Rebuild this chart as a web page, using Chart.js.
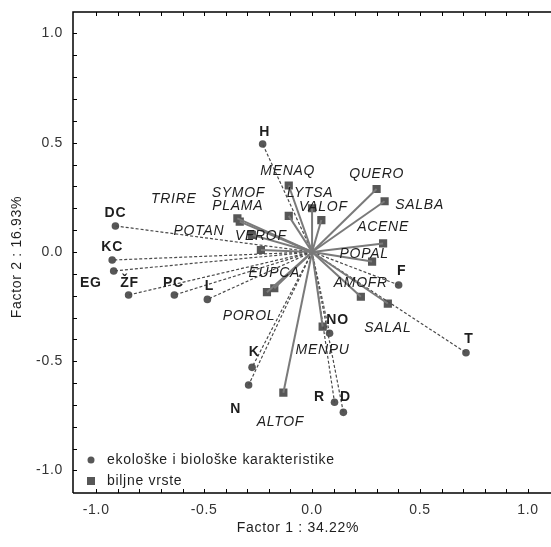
<!DOCTYPE html>
<html>
<head>
<meta charset="utf-8">
<script src="https://cdn.jsdelivr.net/npm/chart.js@4.4.1/dist/chart.umd.min.js"></script>
<style>
  body { margin: 0; background: #fff; }
  #wrap { width: 551px; height: 547px; }
</style>
</head>
<body>
<div id="wrap"><canvas id="biplot"></canvas></div>
<script>
// ekološke i biološke karakteristike (kružići, isprekidane linije)
var karLabels = ["H", "DC", "KC", "EG", "ŽF", "PC", "L", "F", "T", "NO", "K", "N", "R", "D"];
var karX = [-0.229, -0.911, -0.926, -0.919, -0.850, -0.638, -0.485, 0.401, 0.713, 0.081, -0.278, -0.294, 0.104, 0.145];
var karY = [0.494, 0.119, -0.037, -0.087, -0.197, -0.197, -0.217, -0.151, -0.461, -0.372, -0.528, -0.609, -0.688, -0.734];

// biljne vrste (kvadratići, pune linije)
var vrsteLabels = ["MENAQ", "TRIRE", "LYTSA", "VALOF", "QUERO", "SALBA", "ACENE", "POPAL", "AMOFR",
  "SALAL", "SYMOF", "PLAMA", "VEROF", "POTAN", "EUPCA", "POROL", "MENPU", "ALTOF"];
var vrsteX = [-0.108, -0.108, 0.000, 0.043, 0.299, 0.336, 0.329, 0.278, 0.226,
  0.351, -0.346, -0.335, -0.279, -0.237, -0.175, -0.209, 0.049, -0.133];
var vrsteY = [0.304, 0.165, 0.200, 0.146, 0.288, 0.232, 0.039, -0.044, -0.205,
  -0.236, 0.154, 0.139, 0.078, 0.009, -0.166, -0.184, -0.342, -0.644];

var xTicks = [-1.0, -0.5, 0.0, 0.5, 1.0];
var yTicks = [-1.0, -0.5, 0.0, 0.5, 1.0];

// pomaci natpisa u pikselima (samo raspored)
var karOffsets = [[2, -12], [0, -13], [0, -13], [-23, 12], [1, -12], [-1, -12], [2, -13],
  [3, -14], [3, -14], [8, -13], [2, -15], [-13, 24], [-15, -5], [2, -15]];
var vrsteOffsets = [[-1, -14], [-115, -17], [-2, -15], [2, -13], [0, -15], [35, 4], [0, -16],
  [-8, -7], [0, -14], [0, 25], [1, -25], [-2, -15], [9, 1], [-62, -19], [0, -15], [-18, 24], [0, 23], [-3, 29]];

var markColor = "#575757";
var textColor = "#1e1e1e";

function toPoints(xs, ys) {
  return xs.map(function (x, i) { return { x: x, y: ys[i] }; });
}

var karPts = toPoints(karX, karY);
var vrstePts = toPoints(vrsteX, vrsteY);

var datasets = [];
// linije od ishodišta
vrstePts.forEach(function (p) {
  datasets.push({
    type: "line", data: [{ x: 0, y: 0 }, p],
    borderColor: "#7a7a7a", borderWidth: 2, pointRadius: 0, fill: false
  });
});
karPts.forEach(function (p) {
  datasets.push({
    type: "line", data: [{ x: 0, y: 0 }, p],
    borderColor: "#4a4a4a", borderWidth: 1.2, borderDash: [3, 2], pointRadius: 0, fill: false
  });
});
datasets.push({
  label: "biljne vrste", data: vrstePts, pointStyle: "rect", pointRadius: 5.8,
  backgroundColor: markColor, borderColor: markColor, borderWidth: 0, names: vrsteLabels,
  offsets: vrsteOffsets, italic: true
});
datasets.push({
  label: "ekološke i biološke karakteristike", data: karPts, pointStyle: "circle", pointRadius: 3.8,
  backgroundColor: markColor, borderColor: markColor, borderWidth: 0, names: karLabels,
  offsets: karOffsets, italic: false
});

var spacingPlugin = {
  id: "spacing",
  beforeDraw: function (chart) {
    chart.ctx.letterSpacing = "0.7px";
  }
};

var framePlugin = {
  id: "frame",
  afterDraw: function (chart) {
    var ctx = chart.ctx, a = chart.chartArea;
    var xs = chart.scales.x, ys = chart.scales.y;
    ctx.save();
    ctx.strokeStyle = "#000";
    ctx.lineWidth = 1.5;
    ctx.beginPath();
    ctx.moveTo(a.left, a.bottom);
    ctx.lineTo(a.left, a.top);
    ctx.lineTo(chart.width, a.top);
    ctx.moveTo(a.left, a.bottom);
    ctx.lineTo(chart.width, a.bottom);
    ctx.stroke();
    // kratke unutarnje oznake svakih 0.1
    ctx.lineWidth = 1;
    ctx.beginPath();
    for (var i = -10; i <= 10; i++) {
      var px = Math.round(xs.getPixelForValue(i / 10)) + 0.5;
      ctx.moveTo(px, a.bottom); ctx.lineTo(px, a.bottom - 4);
      ctx.moveTo(px, a.top); ctx.lineTo(px, a.top + 4);
      var py = Math.round(ys.getPixelForValue(i / 10)) + 0.5;
      ctx.moveTo(a.left, py); ctx.lineTo(a.left + 4, py);
    }
    ctx.stroke();
    ctx.restore();
  }
};

var labelPlugin = {
  id: "pointLabels",
  afterDatasetsDraw: function (chart) {
    var ctx = chart.ctx;
    ctx.save();
    ctx.textAlign = "center";
    ctx.textBaseline = "middle";
    ctx.fillStyle = textColor;
    chart.data.datasets.forEach(function (ds, di) {
      if (!ds.names) return;
      ctx.font = ds.italic ? "italic 14px 'Liberation Sans', Arial, sans-serif"
                           : "bold 14px 'Liberation Sans', Arial, sans-serif";
      chart.getDatasetMeta(di).data.forEach(function (el, i) {
        var o = ds.offsets[i];
        ctx.fillText(ds.names[i], el.x + o[0], el.y + o[1]);
      });
    });
    ctx.restore();
  }
};

var legendPlugin = {
  id: "innerLegend",
  afterDraw: function (chart) {
    var ctx = chart.ctx, a = chart.chartArea;
    var x = a.left + 18;
    var y1 = a.bottom - 33, y2 = a.bottom - 12;
    ctx.save();
    ctx.fillStyle = markColor;
    ctx.beginPath();
    ctx.arc(x, y1, 3.5, 0, Math.PI * 2);
    ctx.fill();
    ctx.fillRect(x - 4, y2 - 4, 8, 8);
    ctx.fillStyle = textColor;
    ctx.font = "14px 'Liberation Sans', Arial, sans-serif";
    ctx.textAlign = "left";
    ctx.textBaseline = "middle";
    ctx.fillText("ekološke i biološke karakteristike", x + 16, y1);
    ctx.fillText("biljne vrste", x + 16, y2);
    // naslovi osi
    ctx.textAlign = "center";
    ctx.fillText("Factor 1 : 34.22%", 298, 528);
    ctx.translate(17, 257);
    ctx.rotate(-Math.PI / 2);
    ctx.fillText("Factor 2 : 16.93%", 0, 0);
    ctx.restore();
  }
};

new Chart("biplot", {
  type: "scatter",
  data: { datasets: datasets },
  options: {
    responsive: true,
    maintainAspectRatio: false,
    animation: false,
    layout: { padding: { top: 12, right: 0, left: 0, bottom: 0 } },
    plugins: { legend: { display: false }, tooltip: { enabled: false } },
    scales: {
      x: {
        type: "linear",
        min: -1.1075, max: 1.08,
        afterFit: function (s) { s.height = 54; s.paddingLeft = 0; s.paddingRight = 0; },
        afterBuildTicks: function (s) { s.ticks = xTicks.map(function (v) { return { value: v }; }); },
        grid: { display: false, drawTicks: false },
        border: { display: false },
        ticks: {
          padding: 9, color: "#333", maxRotation: 0,
          font: { family: "'Liberation Sans', Arial, sans-serif", size: 14 },
          callback: function (v) { return v.toFixed(1); }
        }
      },
      y: {
        type: "linear",
        min: -1.103, max: 1.098,
        afterFit: function (s) { s.width = 73; s.paddingTop = 0; s.paddingBottom = 0; },
        afterBuildTicks: function (s) { s.ticks = yTicks.map(function (v) { return { value: v }; }); },
        grid: { display: false, drawTicks: false },
        border: { display: false },
        ticks: {
          padding: 10, color: "#333",
          font: { family: "'Liberation Sans', Arial, sans-serif", size: 14 },
          callback: function (v) { return v.toFixed(1); }
        }
      }
    }
  },
  plugins: [spacingPlugin, framePlugin, labelPlugin, legendPlugin]
});
</script>
</body>
</html>
